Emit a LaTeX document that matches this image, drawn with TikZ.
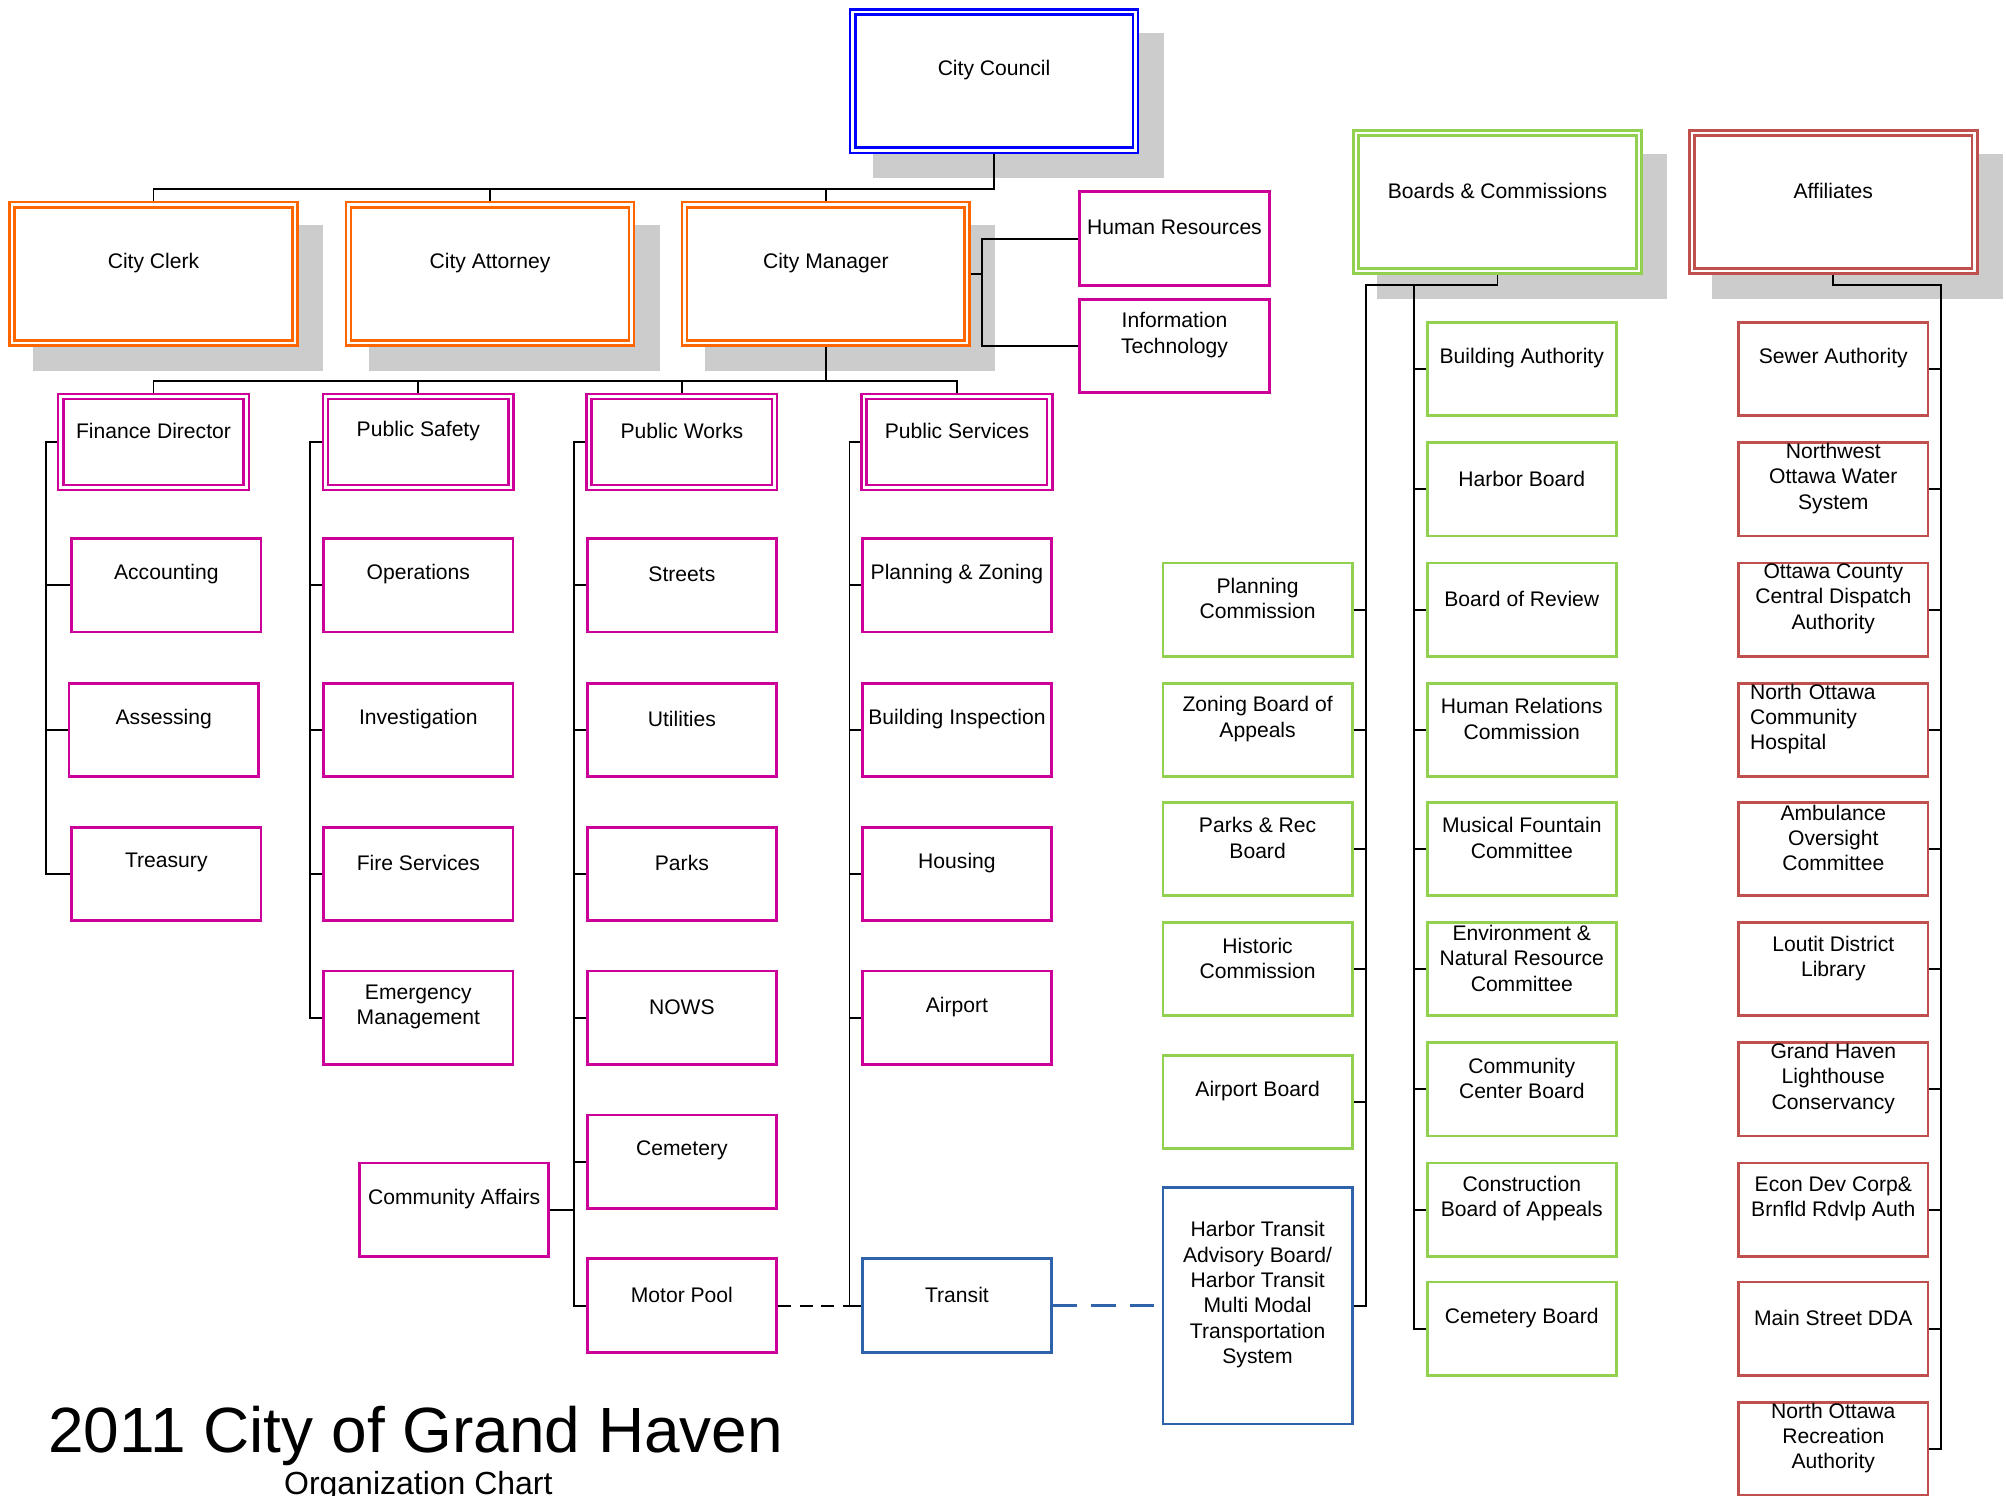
\documentclass[tikz,border=0pt]{standalone}
\usepackage{fontspec}
\setmainfont{Liberation Sans}
\usetikzlibrary{positioning,shadows}

\definecolor{mag}{RGB}{204,0,153}
\definecolor{orng}{RGB}{255,102,0}
\definecolor{cblue}{RGB}{0,0,255}
\definecolor{grn}{RGB}{146,208,80}
\definecolor{rd}{RGB}{192,80,77}
\definecolor{tblue}{RGB}{46,99,170}
\definecolor{shadowgray}{RGB}{204,204,204}

\begin{document}
\begin{tikzpicture}[x=1pt, y=-1pt,
  conn/.style={line width=1.5pt},
  blkdash/.style={line width=1.5pt, dash pattern=on 10pt off 7pt},
  bludash/.style={draw=tblue, line width=2.3pt, dash pattern=on 19pt off 11pt},
  txt/.style={font=\fontsize{16.5}{19.8}\selectfont, align=center, inner sep=0pt, yshift=8.5pt},
  lbl/.style={label={[txt]center:{#1}}},
  head/.style={draw=#1, double=white, line width=2pt, double distance=2pt, fill=white,
               outer sep=3pt, minimum width=221pt, minimum height=108pt,
               drop shadow={shadow xshift=19pt, shadow yshift=-19pt, fill=shadowgray,
                            draw=shadowgray, line width=6pt, opacity=1}},
  dept/.style={draw=mag, double=white, line width=2pt, double distance=2pt, fill=white,
               outer sep=3pt, minimum width=145pt, minimum height=71pt},
  unit/.style={draw=#1, line width=2.2pt, fill=white, minimum width=148pt, minimum height=73pt}
]
\useasboundingbox (0,0) rectangle (1568,1169);

% top of the chart
\node[head=cblue, lbl={City Council}] (cc) at (777,63.5) {};
\node[head=orng, lbl={City Clerk}] (clerk) at (120,214) {};
\node[head=orng, lbl={City Attorney}] (atty) at (383,214) {};
\node[head=orng, lbl={City Manager}] (mgr) at (645.5,214) {};
\node[unit=mag, lbl={Human Resources}] (hr) at (918,186.5) {};
\node[unit=mag, lbl={Information\\Technology}] (it) at (918,270.5) {};
\node[head=grn, lbl={Boards \& Commissions}] (bc) at (1170.5,158) {};
\node[head=rd, lbl={Affiliates}] (aff) at (1433,158) {};

% departments
\node[dept, lbl={Finance Director}] (fin) at (120,345.5) {};
\node[dept, lbl={Public Safety}] (safe) at (327,345.5) {};
\node[dept, lbl={Public Works}] (works) at (533,345.5) {};
\node[dept, lbl={Public Services}] (serv) at (748,345.5) {};

\node[unit=mag, lbl={Accounting}] (acc) at (130,457.5) {};
\node[unit=mag, lbl={Assessing}] (assess) at (128,570.5) {};
\node[unit=mag, lbl={Treasury}] (treas) at (130,683) {};

\node[unit=mag, lbl={Operations}] (ops) at (327,457.5) {};
\node[unit=mag, lbl={Investigation}] (inv) at (327,570.5) {};
\node[unit=mag, lbl={Fire Services}] (fire) at (327,683) {};
\node[unit=mag, lbl={Emergency\\Management}] (emerg) at (327,795.5) {};

\node[unit=mag, lbl={Streets}] (streets) at (533,457.5) {};
\node[unit=mag, lbl={Utilities}] (util) at (533,570.5) {};
\node[unit=mag, lbl={Parks}] (parks) at (533,683) {};
\node[unit=mag, lbl={NOWS}] (nows) at (533,795.5) {};
\node[unit=mag, lbl={Cemetery}] (cem) at (533,908) {};
\node[unit=mag, lbl={Motor Pool}] (motor) at (533,1020.5) {};
\node[unit=mag, lbl={Community Affairs}] (commaff) at (355,945.5) {};

\node[unit=mag, lbl={Planning \& Zoning}] (plan) at (748,457.5) {};
\node[unit=mag, lbl={Building Inspection}] (bldg) at (748,570.5) {};
\node[unit=mag, lbl={Housing}] (housing) at (748,683) {};
\node[unit=mag, lbl={Airport}] (airport) at (748,795.5) {};
\node[unit=tblue, lbl={Transit}] (transit) at (748,1020.5) {};

% boards and commissions
\node[unit=grn, lbl={Planning\\Commission}] (pcom) at (983,476.5) {};
\node[unit=grn, lbl={Zoning Board of\\Appeals}] (zba) at (983,570.5) {};
\node[unit=grn, lbl={Parks \& Rec\\Board}] (parkrec) at (983,663.5) {};
\node[unit=grn, lbl={Historic\\Commission}] (hist) at (983,757.5) {};
\node[unit=grn, lbl={Airport Board}] (airbd) at (983,861.5) {};
\node[unit=tblue, minimum height=185pt,
      lbl={Harbor Transit\\Advisory Board/\\Harbor Transit\\Multi Modal\\Transportation\\System}] (htb) at (983,1020.5) {};

\node[unit=grn, lbl={Building Authority}] (bauth) at (1189.5,288.5) {};
\node[unit=grn, lbl={Harbor Board}] (harbor) at (1189.5,382.5) {};
\node[unit=grn, lbl={Board of Review}] (review) at (1189.5,476.5) {};
\node[unit=grn, lbl={Human Relations\\Commission}] (hrc) at (1189.5,570.5) {};
\node[unit=grn, lbl={Musical Fountain\\Committee}] (fountain) at (1189.5,663.5) {};
\node[unit=grn, lbl={Environment \&\\Natural Resource\\Committee}] (env) at (1189.5,757.5) {};
\node[unit=grn, lbl={Community\\Center Board}] (ccb) at (1189.5,851.5) {};
\node[unit=grn, lbl={Construction\\Board of Appeals}] (cba) at (1189.5,945.5) {};
\node[unit=grn, lbl={Cemetery Board}] (cemb) at (1189.5,1038.5) {};

% affiliates
\node[unit=rd, lbl={Sewer Authority}] (sewer) at (1433,288.5) {};
\node[unit=rd, lbl={Northwest\\Ottawa Water\\System}] (nowater) at (1433,382.5) {};
\node[unit=rd, lbl={Ottawa County\\Central Dispatch\\Authority}] (dispatch) at (1433,476.5) {};
\node[unit=rd, label={[txt, align=left, text width=130pt]center:{North Ottawa\\Community\\Hospital}}] (hospital) at (1433,570.5) {};
\node[unit=rd, lbl={Ambulance\\Oversight\\Committee}] (ambul) at (1433,663.5) {};
\node[unit=rd, lbl={Loutit District\\Library}] (library) at (1433,757.5) {};
\node[unit=rd, lbl={Grand Haven\\Lighthouse\\Conservancy}] (lighthouse) at (1433,851.5) {};
\node[unit=rd, lbl={Econ Dev Corp\&\\Brnfld Rdvlp Auth}] (econ) at (1433,945.5) {};
\node[unit=rd, lbl={Main Street DDA}] (dda) at (1433,1038.5) {};
\node[unit=rd, lbl={North Ottawa\\Recreation\\Authority}] (recauth) at (1433,1132.5) {};

% title
\node[font=\fontsize{50}{60}\selectfont, anchor=base, inner sep=0pt] (title) at (325,1135) {2011 City of Grand Haven};
\node[font=\fontsize{25}{30}\selectfont, anchor=base, inner sep=0pt] (subtitle) at (327,1168) {Organization Chart};

% bus and trunk points
\coordinate (cbus) at (777,148);
\coordinate (mbr) at (767.5,214);
\coordinate (dbus) at (645.5,298);
\coordinate (finT) at (36,345.5);
\coordinate (safeT) at (242,345.5);
\coordinate (worksT) at (449,345.5);
\coordinate (servT) at (664,345.5);
\coordinate (bcL) at (1067.5,223);
\coordinate (bcR) at (1105.5,223);
\coordinate (affR) at (1517.5,223);

% connectors
\draw[conn] (cc.south) -- (cbus) -| (clerk.north) (cbus) -| (atty.north) (cbus) -| (mgr.north);
\draw[conn] (mgr.east) -- (mbr) |- (hr.west) (mbr) |- (it.west);
\draw[conn] (mgr.south) -- (dbus) -| (fin.north) (dbus) -| (safe.north)
  (dbus) -| (works.north) (dbus) -| (serv.north);
\draw[conn] (fin.west) -- (finT) |- (acc.west) (finT) |- (assess.west) (finT) |- (treas.west);
\draw[conn] (safe.west) -- (safeT) |- (ops.west) (safeT) |- (inv.west) (safeT) |- (fire.west)
  (safeT) |- (emerg.west);
\draw[conn] (works.west) -- (worksT) |- (streets.west) (worksT) |- (util.west) (worksT) |- (parks.west)
  (worksT) |- (nows.west) (worksT) |- (cem.west) (worksT) |- (motor.west);
\draw[conn] (commaff.east) -- (commaff.east -| worksT);
\draw[blkdash] (motor.east) -- (transit.west);
\draw[conn] (serv.west) -- (servT) |- (plan.west) (servT) |- (bldg.west) (servT) |- (housing.west)
  (servT) |- (airport.west) (servT) |- (transit.west);
\draw[bludash] (transit.east) -- (htb.west);

\draw[conn] (bc.south) |- (bcL) |- (pcom.east) (bcL) |- (zba.east) (bcL) |- (parkrec.east)
  (bcL) |- (hist.east) (bcL) |- (airbd.east) (bcL) |- (htb.east);
\draw[conn] (bcR) |- (bauth.west) (bcR) |- (harbor.west) (bcR) |- (review.west) (bcR) |- (hrc.west)
  (bcR) |- (fountain.west) (bcR) |- (env.west) (bcR) |- (ccb.west) (bcR) |- (cba.west) (bcR) |- (cemb.west);
\draw[conn] (aff.south) |- (affR) |- (sewer.east) (affR) |- (nowater.east) (affR) |- (dispatch.east)
  (affR) |- (hospital.east) (affR) |- (ambul.east) (affR) |- (library.east) (affR) |- (lighthouse.east)
  (affR) |- (econ.east) (affR) |- (dda.east) (affR) |- (recauth.east);
\end{tikzpicture}
\end{document}
